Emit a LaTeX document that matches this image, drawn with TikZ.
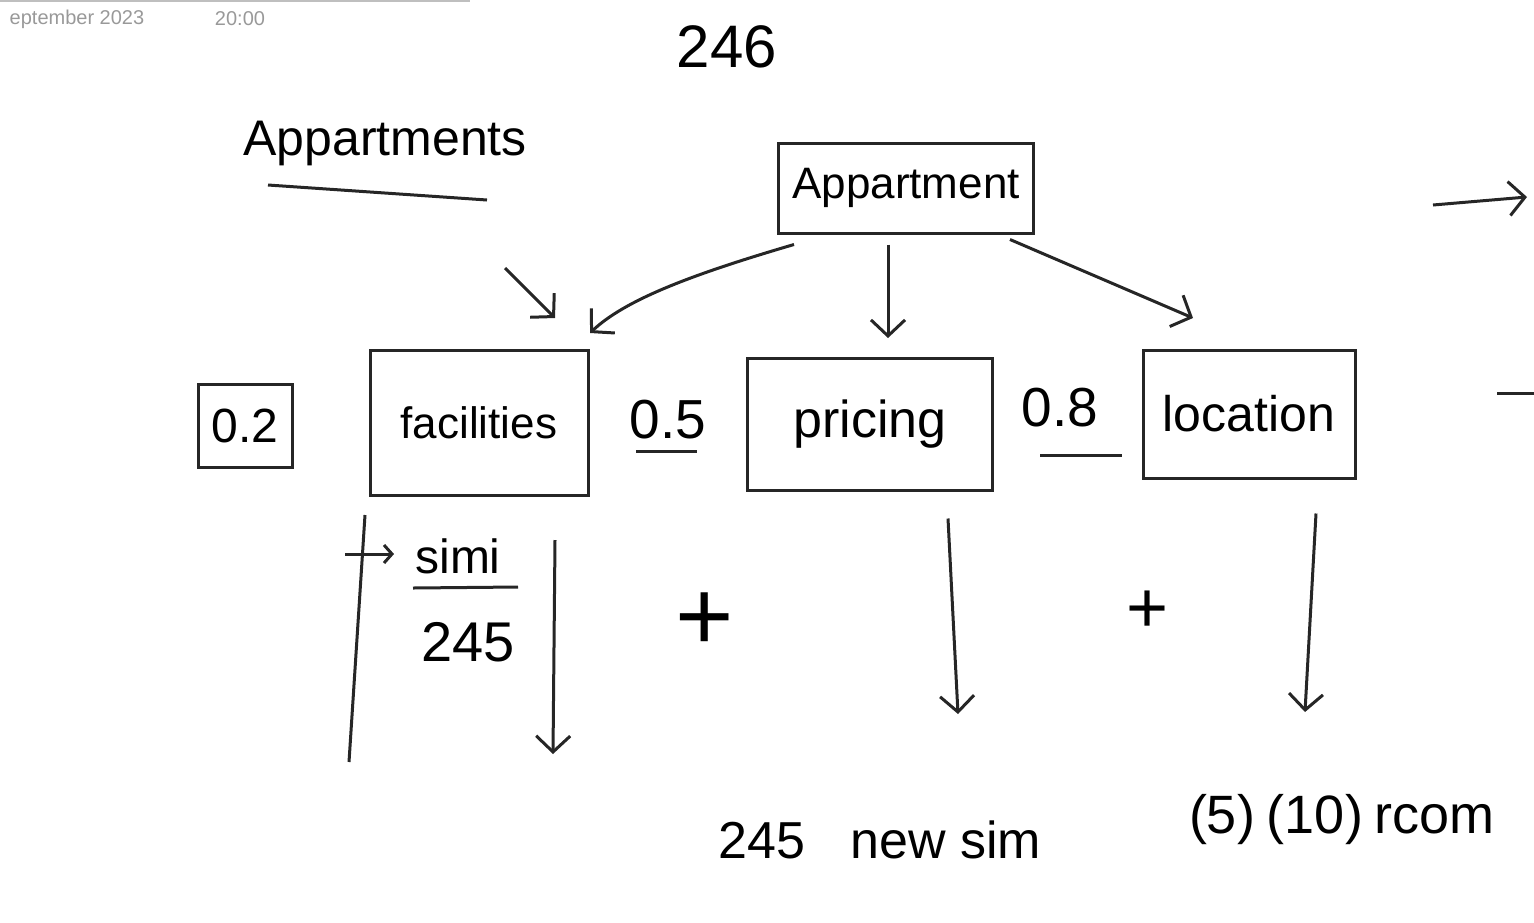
\documentclass[tikz,border=0pt]{standalone}
\usepackage{fontspec}
\setmainfont{Liberation Sans}
\usetikzlibrary{arrows.meta}
\begin{document}
\begin{tikzpicture}[x=1pt,y=-1pt,
  ink/.style={line width=3pt,draw=black!85},
  arr/.style={ink,-{Straight Barb[length=16pt,width=34pt,line width=3pt]}},
  box/.style={ink,rectangle,inner sep=0pt},
  fs/.style={font=\fontsize{#1}{#1}\selectfont},
  lbl/.style={inner sep=0pt},
  meta/.style={font=\fontsize{20}{22}\selectfont,text=black!40,inner sep=0pt}]
\useasboundingbox (0,0) rectangle (1534,922);
% header
\draw[black!25,line width=2pt] (0,1) -- (470,1);
\node[meta] (date) at (77,19) {eptember 2023};
\node[meta] (time) at (240,19) {20:00};
% title
\node[lbl,fs=60] (num) at (727,47) {246};
\node[lbl,fs=50] (apps) at (385,143) {Appartments};
\coordinate (u1) at (268,185);
\coordinate (u2) at (487,200);
\draw[ink] (u1) -- (u2);
% root box
\node[box,fs=44,minimum width=255,minimum height=90] (app) at (906,188) {Appartment};
% child boxes
\node[box,fs=44,minimum width=218,minimum height=145] (fac) at (479,423) {facilities};
\node[box,fs=52,minimum width=245,minimum height=132] (pri) at (870,424) {pricing};
\node[box,fs=50,minimum width=212,minimum height=128] (loc) at (1249,414) {location};
\node[box,fs=48,minimum width=94,minimum height=83] (w1) at (245,426) {0.2};
\node[lbl,fs=55] (w2) at (668,420) {0.5};
\node[lbl,fs=55] (w3) at (1060,408) {0.8};
\coordinate (w2a) at (636,451); \coordinate (w2b) at (697,451);
\coordinate (w3a) at (1040,455); \coordinate (w3b) at (1122,455);
\draw[ink] (w2a) -- (w2b);
\draw[ink] (w3a) -- (w3b);
% arrows from root
\coordinate (fa) at (590,333);
\coordinate (pa) at (888,338);
\coordinate (la) at (1193,318);
\draw[arr] ([xshift=17pt,yshift=-10pt]app.south west) .. controls (690,275) and (625,300) .. (fa);
\draw[arr] ([xshift=-18pt,yshift=-10pt]app.south) -- (pa);
\draw[arr] ([xshift=-25pt,yshift=-5pt]app.south east) -- (la);
\coordinate (s1) at (505,268); \coordinate (s2) at (555,318);
\draw[arr] (s1) -- (s2);
% right edge marks
\coordinate (r1) at (1433,205); \coordinate (r2) at (1527,197);
\draw[arr] (r1) -- (r2);
\coordinate (r3) at (1497,393); \coordinate (r4) at (1534,393);
\draw[ink] (r3) -- (r4);
% below facilities
\coordinate (v1) at (365,515); \coordinate (v2) at (349,762);
\draw[ink] (v1) -- (v2);
\coordinate (h1) at (345,554); \coordinate (h2) at (394,554);
\draw[ink,-{Straight Barb[length=8pt,width=18pt,line width=3pt]}] (h1) -- (h2);
\node[lbl,fs=48] (simi) at (458,556) {simi};
\coordinate (f1) at (413,588); \coordinate (f2) at (518,587);
\draw[ink] (f1) -- (f2);
\node[lbl,fs=56] (den) at (468,642) {245};
\coordinate (fd1) at (555,540); \coordinate (fd2) at (553,754);
\draw[arr] (fd1) -- (fd2);
% plus signs
\node[lbl,fs=100] (p1) at (705,622) {+};
\node[lbl,fs=72] (p2) at (1148,612) {+};
% down arrows
\coordinate (pd) at (958,714);
\draw[arr] ([xshift=78pt,yshift=-27pt]pri.south) -- (pd);
\coordinate (ld) at (1305,712);
\draw[arr] ([xshift=67pt,yshift=-34pt]loc.south) -- (ld);
% bottom texts
\node[lbl,fs=52] (b1) at (880,840) {245\hspace{45pt}new sim};
\node[lbl,fs=54] (b2) at (1342,820) {(5)\hspace{12pt}(10)\hspace{12pt}rcom};
\end{tikzpicture}
\end{document}
